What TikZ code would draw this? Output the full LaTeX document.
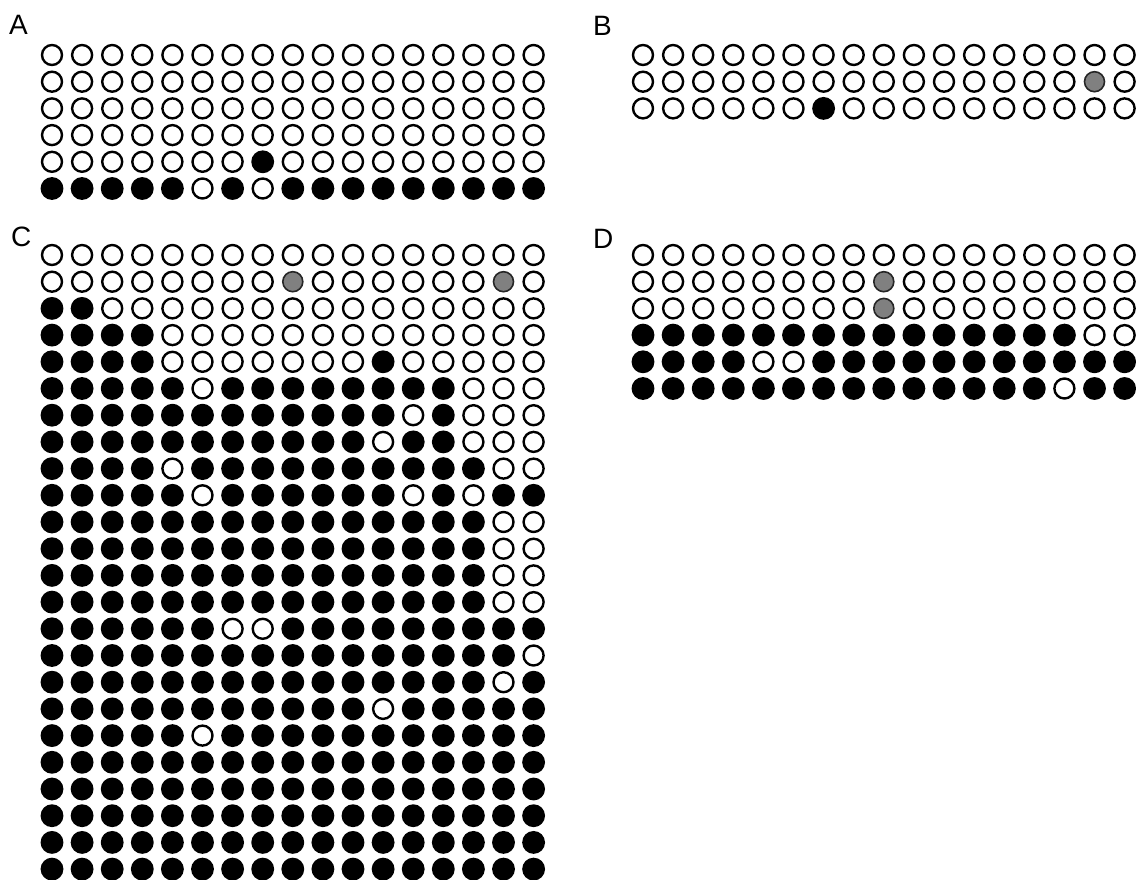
\documentclass[tikz,border=0pt]{standalone}
\usepackage{fontspec}
\setmainfont{Liberation Sans}
\usepackage{tikz}
\definecolor{ink}{HTML}{000000}
\definecolor{spot}{HTML}{808080}

% one plate: #1 = left x, #2 = top y, #3 = rows (0 empty, 1 full, 2 grey)
\newcommand{\plate}[3]{%
  \foreach \cells [count=\r] in {#3} {
    \foreach \v [count=\c] in \cells { \path[cell\v] ({#1+(\c-1)*30.1},{#2+(\r-1)*26.7}) circle (10); }
  }%
}

\begin{document}
\begin{tikzpicture}[x=1pt,y=-1pt,
  cell0/.style={draw=ink,fill=white,line width=2.4pt},
  cell1/.style={draw=ink,fill=ink,line width=2.8pt},
  cell2/.style={draw=ink!85,fill=spot,line width=1.6pt},
  lbl/.style={anchor=base west,inner sep=0pt,font=\fontsize{28}{32}\selectfont}]
  \useasboundingbox (0,0) rectangle (1136,880);
  \node[lbl] (labA) at (9,35) {A};
  \node[lbl] (labB) at (593,36) {B};
  \node[lbl] (labC) at (11,247) {C};
  \node[lbl] (labD) at (593,248) {D};
  % A
  \plate{52}{55}{
    {0,0,0,0,0,0,0,0,0,0,0,0,0,0,0,0,0},
    {0,0,0,0,0,0,0,0,0,0,0,0,0,0,0,0,0},
    {0,0,0,0,0,0,0,0,0,0,0,0,0,0,0,0,0},
    {0,0,0,0,0,0,0,0,0,0,0,0,0,0,0,0,0},
    {0,0,0,0,0,0,0,1,0,0,0,0,0,0,0,0,0},
    {1,1,1,1,1,0,1,0,1,1,1,1,1,1,1,1,1}}
  % B
  \plate{643}{55}{
    {0,0,0,0,0,0,0,0,0,0,0,0,0,0,0,0,0},
    {0,0,0,0,0,0,0,0,0,0,0,0,0,0,0,2,0},
    {0,0,0,0,0,0,1,0,0,0,0,0,0,0,0,0,0}}
  % C
  \plate{52}{255}{
    {0,0,0,0,0,0,0,0,0,0,0,0,0,0,0,0,0},
    {0,0,0,0,0,0,0,0,2,0,0,0,0,0,0,2,0},
    {1,1,0,0,0,0,0,0,0,0,0,0,0,0,0,0,0},
    {1,1,1,1,0,0,0,0,0,0,0,0,0,0,0,0,0},
    {1,1,1,1,0,0,0,0,0,0,0,1,0,0,0,0,0},
    {1,1,1,1,1,0,1,1,1,1,1,1,1,1,0,0,0},
    {1,1,1,1,1,1,1,1,1,1,1,1,0,1,0,0,0},
    {1,1,1,1,1,1,1,1,1,1,1,0,1,1,0,0,0},
    {1,1,1,1,0,1,1,1,1,1,1,1,1,1,1,0,0},
    {1,1,1,1,1,0,1,1,1,1,1,1,0,1,0,1,1},
    {1,1,1,1,1,1,1,1,1,1,1,1,1,1,1,0,0},
    {1,1,1,1,1,1,1,1,1,1,1,1,1,1,1,0,0},
    {1,1,1,1,1,1,1,1,1,1,1,1,1,1,1,0,0},
    {1,1,1,1,1,1,1,1,1,1,1,1,1,1,1,0,0},
    {1,1,1,1,1,1,0,0,1,1,1,1,1,1,1,1,1},
    {1,1,1,1,1,1,1,1,1,1,1,1,1,1,1,1,0},
    {1,1,1,1,1,1,1,1,1,1,1,1,1,1,1,0,1},
    {1,1,1,1,1,1,1,1,1,1,1,0,1,1,1,1,1},
    {1,1,1,1,1,0,1,1,1,1,1,1,1,1,1,1,1},
    {1,1,1,1,1,1,1,1,1,1,1,1,1,1,1,1,1},
    {1,1,1,1,1,1,1,1,1,1,1,1,1,1,1,1,1},
    {1,1,1,1,1,1,1,1,1,1,1,1,1,1,1,1,1},
    {1,1,1,1,1,1,1,1,1,1,1,1,1,1,1,1,1},
    {1,1,1,1,1,1,1,1,1,1,1,1,1,1,1,1,1}}
  % D
  \plate{643}{255}{
    {0,0,0,0,0,0,0,0,0,0,0,0,0,0,0,0,0},
    {0,0,0,0,0,0,0,0,2,0,0,0,0,0,0,0,0},
    {0,0,0,0,0,0,0,0,2,0,0,0,0,0,0,0,0},
    {1,1,1,1,1,1,1,1,1,1,1,1,1,1,1,0,0},
    {1,1,1,1,0,0,1,1,1,1,1,1,1,1,1,1,1},
    {1,1,1,1,1,1,1,1,1,1,1,1,1,1,0,1,1}}
\end{tikzpicture}
\end{document}
